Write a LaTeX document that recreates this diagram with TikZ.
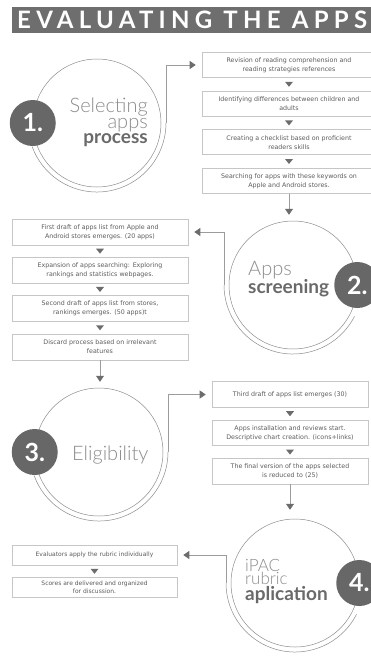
\documentclass[tikz,border=0pt]{standalone}
\usepackage{fontspec}
\setmainfont{DejaVu Sans}
\newfontfamily\labelfont{Lato}[UprightFont=* Light, BoldFont=* Bold]
\newfontfamily\titlefont{Lato}[UprightFont=* Bold, LetterSpace=22]
\usetikzlibrary{arrows.meta, positioning, calc}

\definecolor{bargray}{HTML}{6E6E6E}
\definecolor{badgegray}{HTML}{676767}
\definecolor{lightlabel}{HTML}{8C8C8C}
\definecolor{darklabel}{HTML}{6A6A6A}
\definecolor{boxline}{HTML}{C6C6C6}
\definecolor{boxtext}{HTML}{5C5C5C}
\definecolor{linegray}{HTML}{9C9C9C}
\definecolor{tipgray}{HTML}{6C6C6C}

\newcommand{\boldline}[1]{{\fontsize{19}{15.5}\selectfont\bfseries\color{darklabel}#1}}

\tikzset{
  stepbox/.style={draw=boxline, line width=0.6pt, fill=white, align=center, text=boxtext,
    font=\fontsize{6.3}{9}\selectfont, inner sep=2pt},
  ring/.style={circle, draw=lightlabel, line width=0.5pt, minimum size=128pt, inner sep=0pt},
  outer/.style={draw=lightlabel, line width=0.5pt},
  badge/.style={circle, fill=badgegray, text=white, minimum size=46pt, inner sep=0pt,
    font=\labelfont\bfseries\fontsize{25}{25}\selectfont},
  label/.style={inner sep=0pt, text=lightlabel, font=\labelfont\fontsize{20}{15.5}\selectfont},
  conn/.style={draw=linegray, line width=0.7pt, shorten >=6pt,
    -{Triangle[width=8pt,length=6pt,color=tipgray]}},
  downtri/.pic={\fill[tipgray] (-4,2.5) -- (4,2.5) -- (0,-2.5) -- cycle;}
}

\begin{document}
\begin{tikzpicture}[x=1pt, y=1pt]
  \useasboundingbox (0,0) rectangle (370,-662);
  \fill[white] (0,0) rectangle (370,-662);

  % title
  \fill[bargray] (12,-7) rectangle (372,-33);
  \node[anchor=west, text=white, inner sep=0pt, font=\titlefont\fontsize{24}{24}\selectfont] (title) at (17,-20) {EVALUATING THE APPS};

  % step boxes
  \node[stepbox, minimum width=174pt, minimum height=25pt] (rev) at (289,-65) {Revision of reading comprehension and\\reading strategies references};
  \node[stepbox, minimum width=174pt, minimum height=25pt, below=13pt of rev] (diff) {Identifying differences between children and\\adults};
  \node[stepbox, minimum width=174pt, minimum height=25pt, below=13pt of diff] (check) {Creating a checklist based on proficient\\readers skills};
  \node[stepbox, minimum width=174pt, minimum height=25pt, below=13pt of check] (search) {Searching for apps with these keywords on\\Apple and Android stores.};

  \node[stepbox, minimum width=176pt, minimum height=26pt] (first) at (100,-232) {First draft of apps list from Apple and\\Android stores emerges. (20 apps)};
  \node[stepbox, minimum width=176pt, minimum height=26pt, below=11.7pt of first] (expand) {Expansion of apps searching: Exploring\\rankings and statistics webpages.};
  \node[stepbox, minimum width=176pt, minimum height=26pt, below=11.7pt of expand] (second) {Second draft of apps list from stores,\\rankings emerges. (50 apps)t};
  \node[stepbox, minimum width=176pt, minimum height=26pt, below=11.7pt of second] (discard) {Discard process based on irrelevant\\features};

  \node[stepbox, minimum width=156pt, minimum height=25.5pt] (third) at (290,-394.5) {Third draft of apps list emerges (30)};
  \node[stepbox, minimum width=156pt, minimum height=25.5pt, below=12.3pt of third] (install) {Apps installation and reviews start.\\Descriptive chart creation. (icons+links)};
  \node[stepbox, minimum width=156pt, minimum height=25.5pt, below=12.3pt of install] (final) {The final version of the apps selected\\is reduced to (25)};

  \node[stepbox, minimum width=165pt, minimum height=20pt, font=\fontsize{6}{8}\selectfont] (apply) at (94.5,-555) {Evaluators apply the rubric individually};
  \node[stepbox, minimum width=165pt, minimum height=20pt, font=\fontsize{6}{8}\selectfont, below=12pt of apply] (scores) {Scores are delivered and organized\\for discussion.};

  \foreach \a/\b in {rev/diff, diff/check, check/search, first/expand, expand/second,
                     second/discard, third/install, install/final, apply/scores}
    \pic at ($(\a.south)!0.5!(\b.north)$) {downtri};

  % the four stages
  \node[ring] (sel) at (97,-123) {};
  \node[ring] (scr) at (293,-285) {};
  \node[ring] (elig) at (99,-452) {};
  \node[ring] (ipac) at (295,-583) {};

  \draw[outer] (sel.center) ++(200:69) arc[start angle=200, end angle=360, radius=69] coordinate (sel-out);
  \draw[outer] (scr.center) ++(-27:69) arc[start angle=-27, end angle=-180, radius=69] coordinate (scr-out);
  \draw[outer] (elig.center) ++(200:69) arc[start angle=200, end angle=360, radius=69] coordinate (elig-out);
  \draw[outer] (ipac.center) ++(-27:69) arc[start angle=-27, end angle=-180, radius=69] coordinate (ipac-out);

  \draw[conn] (sel-out) |- (rev.west);
  \draw[conn] (scr-out) |- (first.east);
  \draw[conn] (elig-out) |- (third.west);
  \draw[conn] (ipac-out) |- (apply.east);

  \draw[conn] (search.south) -- (search.south |- scr.north);
  \draw[conn] (discard.south) -- (discard.south |- elig.north);
  \draw[conn, shorten >=9pt] (final.south) -- (final.south |- ipac.north);

  \node[badge] (n1) at (sel.west) {1.};
  \node[badge] (n2) at (scr.east) {2.};
  \node[badge] (n3) at (elig.west) {3.};
  \node[badge] (n4) at (ipac.east) {4.};

  \node[label, anchor=north east, align=right] (sel-text) at (148,-98)
    {Selecting\\apps\\\boldline{process}};
  \node[label, anchor=north west, align=left] (scr-text) at (248,-261)
    {Apps\\\boldline{screening}};
  \node[label, anchor=base west] (elig-text) at (72,-460) {Eligibility};
  \node[label, anchor=north west, align=left, font=\labelfont\fontsize{17}{13.5}\selectfont] (ipac-text) at (245,-559)
    {iPAC\\rubric\\\boldline{aplication}};
\end{tikzpicture}
\end{document}
